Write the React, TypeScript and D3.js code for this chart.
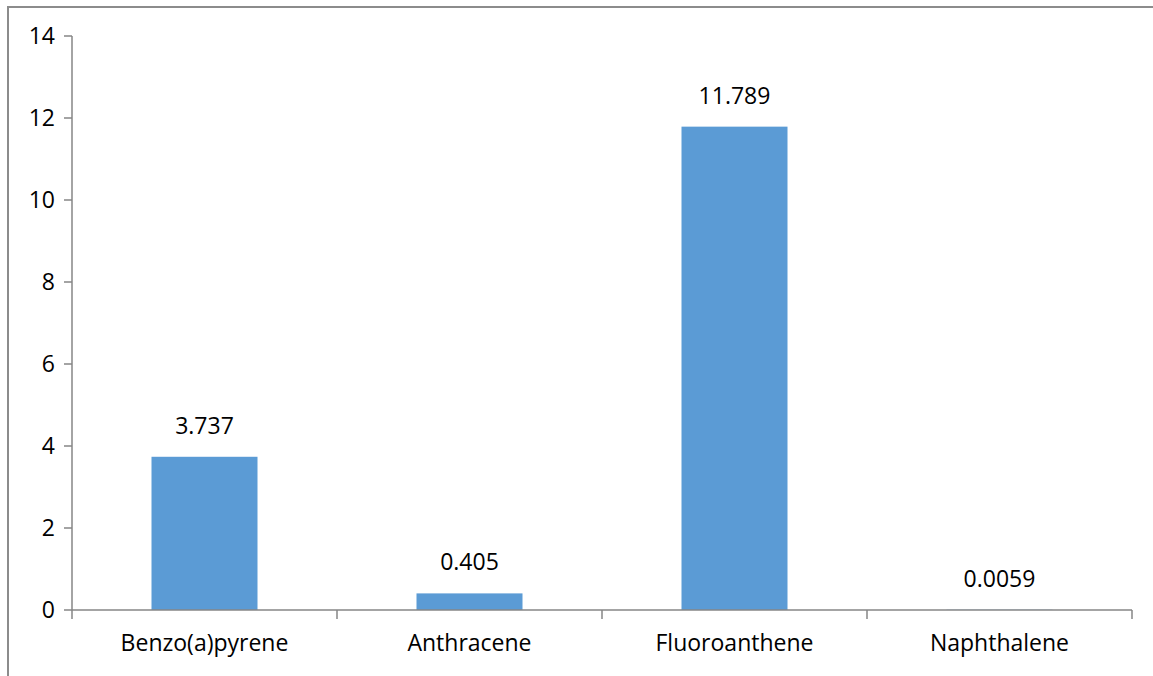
import React from "react";
import * as d3 from "d3";

const categories = ["Benzo(a)pyrene", "Anthracene", "Fluoroanthene", "Naphthalene"];
const values = [3.737, 0.405, 11.789, 0.0059];
const valueLabels = ["3.737", "0.405", "11.789", "0.0059"];
const yTicks = [0, 2, 4, 6, 8, 10, 12, 14];

const W = 1153;
const H = 676;
const plot = { left: 72, right: 1132, top: 36, bottom: 610 };
const axisColor = "#868686";
const barColor = "#5b9bd5";
const font = "'Open Sans', sans-serif";
const fontSize = 23;

export default function App() {
  const x = d3
    .scaleBand<string>()
    .domain(categories)
    .range([plot.left, plot.right])
    .paddingInner(0.6)
    .paddingOuter(0.3);
  const band = d3.scaleBand<string>().domain(categories).range([plot.left, plot.right]);
  const y = d3.scaleLinear().domain([0, 14]).range([plot.bottom, plot.top]);

  const boundaries = d3.range(categories.length + 1).map(
    (i) => plot.left + (i * (plot.right - plot.left)) / categories.length
  );

  return (
    <svg
      width={W}
      height={H}
      style={{ position: "absolute", left: 0, top: 0, background: "#fff" }}
      fontFamily={font}
    >
      <rect x={8} y={7} width={W + 20} height={H + 20} fill="#fff" stroke="#8c8c8c" strokeWidth={2} />

      {/* bars */}
      {categories.map((c, i) => (
        <rect
          key={c}
          x={x(c)!}
          y={y(values[i])}
          width={x.bandwidth()}
          height={plot.bottom - y(values[i])}
          fill={barColor}
        />
      ))}

      {/* y axis */}
      <line x1={plot.left} x2={plot.left} y1={plot.top} y2={plot.bottom} stroke={axisColor} strokeWidth={1.5} />
      {yTicks.map((t) => (
        <g key={t}>
          <line x1={plot.left - 8} x2={plot.left} y1={y(t)} y2={y(t)} stroke={axisColor} strokeWidth={1.5} />
          <text x={55} y={y(t)} dy="0.35em" textAnchor="end" fontSize={fontSize} fill="#000">
            {t}
          </text>
        </g>
      ))}

      {/* x axis */}
      <line x1={plot.left} x2={plot.right} y1={plot.bottom} y2={plot.bottom} stroke={axisColor} strokeWidth={1.5} />
      {boundaries.map((bx, i) => (
        <line key={i} x1={bx} x2={bx} y1={plot.bottom} y2={plot.bottom + 9} stroke={axisColor} strokeWidth={1.5} />
      ))}
      {categories.map((c) => (
        <text
          key={c}
          x={band(c)! + band.bandwidth() / 2}
          y={651}
          textAnchor="middle"
          fontSize={fontSize}
          fill="#000"
        >
          {c}
        </text>
      ))}

      {/* value labels */}
      {categories.map((c, i) => (
        <text
          key={c}
          x={band(c)! + band.bandwidth() / 2}
          y={y(values[i]) - 23}
          textAnchor="middle"
          fontSize={fontSize}
          fill="#000"
        >
          {valueLabels[i]}
        </text>
      ))}
    </svg>
  );
}
